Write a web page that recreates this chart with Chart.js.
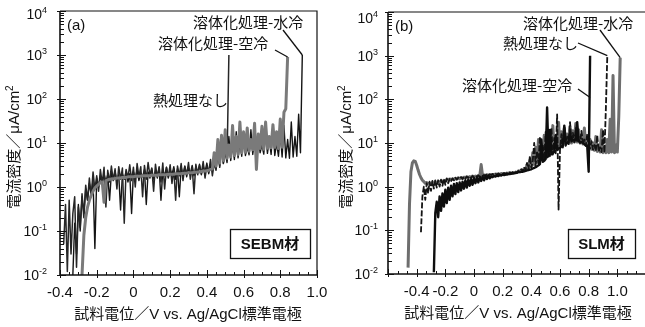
<!DOCTYPE html>
<html>
<head>
<meta charset="utf-8">
<script src="https://cdn.jsdelivr.net/npm/chart.js@4.4.0/dist/chart.umd.min.js"></script>
<style>
  html, body { margin: 0; padding: 0; background: #fff; overflow: hidden; }
  body { width: 645px; height: 327px; position: relative; }
  #wrapA { position: absolute; left: 0; top: 0; width: 335px; height: 327px; }
  #wrapB { position: absolute; left: 322px; top: 0; width: 330px; height: 327px; }
</style>
</head>
<body>
<div id="wrapA"><canvas id="chartA"></canvas></div>
<div id="wrapB"><canvas id="chartB"></canvas></div>
<script>
'use strict';

// potential sweep, V vs. Ag/AgCl
var potentialA = [
  -0.38, -0.37, -0.36, -0.35, -0.34, -0.33, -0.32, -0.31, -0.30, -0.29,
  -0.28, -0.27, -0.26, -0.25, -0.24, -0.23, -0.22, -0.21, -0.20, -0.19,
  -0.18, -0.17, -0.16, -0.15, -0.14, -0.13, -0.12, -0.11, -0.10, -0.09,
  -0.08, -0.07, -0.06, -0.05, -0.04, -0.03, -0.02, -0.01, 0.00, 0.01,
  0.02, 0.03, 0.04, 0.05, 0.06, 0.07, 0.08, 0.09, 0.10, 0.11,
  0.12, 0.13, 0.14, 0.15, 0.16, 0.17, 0.18, 0.19, 0.20, 0.21,
  0.22, 0.23, 0.24, 0.25, 0.26, 0.27, 0.28, 0.29, 0.30, 0.31,
  0.32, 0.33, 0.34, 0.35, 0.36, 0.37, 0.38, 0.39, 0.40, 0.41,
  0.42, 0.43, 0.44, 0.45, 0.46, 0.47, 0.48, 0.49, 0.50, 0.51,
  0.52, 0.53, 0.54, 0.55, 0.56, 0.57, 0.58, 0.59, 0.60, 0.61,
  0.62, 0.63, 0.64, 0.65, 0.66, 0.67, 0.68, 0.69, 0.70, 0.71,
  0.72, 0.73, 0.74, 0.75, 0.76, 0.77, 0.78, 0.79, 0.80, 0.81,
  0.82, 0.83, 0.84, 0.85, 0.86, 0.87, 0.88, 0.89, 0.90, 0.91,
  0.92
];
var potentialB = [
  -0.46, -0.45, -0.44, -0.43, -0.42, -0.41, -0.40, -0.39, -0.38, -0.37,
  -0.36, -0.35, -0.34, -0.33, -0.32, -0.31, -0.30, -0.29, -0.28, -0.27,
  -0.26, -0.25, -0.24, -0.23, -0.22, -0.21, -0.20, -0.19, -0.18, -0.17,
  -0.16, -0.15, -0.14, -0.13, -0.12, -0.11, -0.10, -0.09, -0.08, -0.07,
  -0.06, -0.05, -0.04, -0.03, -0.02, -0.01, 0.00, 0.01, 0.02, 0.03,
  0.04, 0.05, 0.06, 0.07, 0.08, 0.09, 0.10, 0.11, 0.12, 0.13,
  0.14, 0.15, 0.16, 0.17, 0.18, 0.19, 0.20, 0.21, 0.22, 0.23,
  0.24, 0.25, 0.26, 0.27, 0.28, 0.29, 0.30, 0.31, 0.32, 0.33,
  0.34, 0.35, 0.36, 0.37, 0.38, 0.39, 0.40, 0.41, 0.42, 0.43,
  0.44, 0.45, 0.46, 0.47, 0.48, 0.49, 0.50, 0.51, 0.52, 0.53,
  0.54, 0.55, 0.56, 0.57, 0.58, 0.59, 0.60, 0.61, 0.62, 0.63,
  0.64, 0.65, 0.66, 0.67, 0.68, 0.69, 0.70, 0.71, 0.72, 0.73,
  0.74, 0.75, 0.76, 0.77, 0.78, 0.79, 0.80, 0.81, 0.82, 0.83,
  0.84, 0.85, 0.86, 0.87, 0.88, 0.89, 0.90, 0.91, 0.92, 0.93,
  0.94, 0.95, 0.96, 0.97, 0.98, 0.99, 1.00, 1.01, 1.02
];

// (a) SEBM, current density in µA/cm2
var asBuiltA = [ // starts -0.38 V
  0.05, 0.4, 0.012, 0.5, 0.03, 0.25, 0.6, 0.015, 0.35, 0.12,
  0.7, 0.2, 1.1, 0.5, 1.6, 0.6, 2.2, 0.9, 1.8, 0.8,
  2.5, 1.2, 2.8, 0.35, 2.4, 1.3, 3.0, 1.4, 2.6, 0.9,
  2.9, 1.5, 2.7, 0.15, 2.5, 1.6, 3.2, 1.4, 2.8, 1.0,
  3.4, 1.7, 2.9, 0.6, 3.1, 1.5, 3.6, 1.8, 2.7, 0.8,
  3.3, 1.6, 2.9, 1.3, 3.5, 0.9, 2.8, 1.7, 3.2, 1.2,
  2.6, 0.5, 3.0, 1.8, 3.4, 1.4, 2.9, 1.9, 3.6, 1.5,
  2.8, 0.7, 3.3, 1.9, 3.1, 2.0, 3.8, 1.6, 3.0, 2.2,
  4.2, 1.8, 3.5, 2.4, 6.0, 2.8, 9.0, 3.5, 12, 4.0,
  1000
];
var airCoolA = [ // starts -0.28 V
  0.01, 0.08, 0.2, 0.35, 0.5, 0.65, 0.8, 0.95, 1.05, 1.15,
  1.25, 1.3, 0.45, 1.4, 1.45, 1.5, 1.5, 1.55, 1.55, 1.6,
  1.6, 1.6, 1.65, 1.65, 1.65, 1.7, 1.7, 1.7, 1.7, 1.75,
  1.75, 1.75, 1.75, 1.8, 1.8, 1.8, 1.8, 1.8, 1.85, 1.85,
  1.85, 1.85, 1.9, 1.9, 1.9, 1.9, 1.9, 1.95, 1.95, 1.95,
  1.95, 2.0, 2.0, 2.0, 2.0, 2.05, 2.05, 2.05, 2.1, 2.1,
  2.1, 2.15, 2.15, 2.2, 2.2, 2.25, 2.3, 2.3, 2.35, 2.4,
  2.5, 2.6, 6, 3.0, 12, 3.5, 15, 4.0, 20, 4.5,
  9, 4.8, 25, 5.2, 14, 5.5, 30, 6.0, 18, 6.2,
  22, 6.5, 12, 7.0, 28, 2.5, 16, 7.5, 24, 7.2,
  30, 7.6, 14, 7.8, 26, 8.0, 18, 7.5, 35, 8.0,
  50, 60, 900
];
var waterCoolA = [ // starts -0.33 V
  0.01, 0.15, 0.03, 0.4, 0.1, 0.6, 0.25, 0.9, 0.5, 1.2,
  0.7, 1.4, 0.04, 1.6, 1.0, 1.8, 1.2, 2.0, 1.3, 1.9,
  0.5, 2.1, 1.5, 2.2, 1.4, 1.9, 0.3, 2.0, 1.5, 2.3,
  1.3, 2.0, 0.25, 2.2, 1.6, 2.4, 1.4, 2.1, 1.7, 2.5,
  0.4, 2.2, 1.6, 2.6, 1.5, 2.3, 1.7, 2.7, 0.5, 2.4,
  1.8, 2.8, 1.6, 2.5, 1.9, 2.9, 1.5, 2.6, 0.6, 2.8,
  1.9, 3.0, 1.7, 2.7, 2.0, 3.1, 1.8, 2.9, 2.1, 3.3,
  1.9, 3.0, 2.2, 3.5, 2.0, 3.2, 2.4, 4.0, 2.6, 8,
  3.0, 12, 3.4, 6, 3.6, 14, 4.0, 9, 4.2, 18,
  4.6, 10, 5.0, 16, 5.2, 8, 5.4, 20, 5.5, 11,
  5.8, 15, 6.0, 9, 5.6, 18, 5.8, 12, 5.5, 22,
  5.2, 10, 5.0, 16, 4.8, 25, 4.6, 12, 4.5, 30,
  4.8, 14, 5.0, 45, 6.0, 1000
];

// (b) SLM
var waterCoolB = [ // starts -0.46 V
  0.014, 0.4, 2.2, 3.5, 3.9, 3.8, 3.1, 2.4, 1.9, 1.6,
  1.4, 1.3, 1.2, 1.25, 1.15, 1.2, 1.1, 1.25, 1.15, 1.3,
  1.2, 1.3, 1.25, 1.35, 1.3, 1.4, 1.35, 1.45, 1.4, 1.5,
  1.45, 1.5, 1.45, 1.55, 1.5, 1.6, 1.5, 1.6, 1.55, 1.65,
  1.6, 1.7, 1.6, 1.7, 1.65, 1.75, 1.7, 1.75, 1.7, 1.8,
  1.75, 3.2, 1.75, 1.85, 1.8, 1.85, 1.8, 1.9, 1.85, 1.9,
  1.85, 1.95, 1.9, 1.95, 1.9, 2.0, 1.95, 2.0, 1.95, 2.05,
  2.0, 2.1, 2.0, 2.1, 2.05, 2.15, 2.1, 2.3, 2.2, 2.4,
  2.3, 2.6, 2.4, 3.2, 2.6, 4.0, 2.9, 6.0, 3.2, 8.0,
  3.6, 12, 4.0, 9, 4.6, 15, 5.0, 20, 5.6, 12,
  6.2, 25, 6.8, 14, 7.4, 30, 8.0, 18, 8.6, 22,
  9.2, 16, 9.8, 24, 10, 19, 10.5, 28, 10.5, 20,
  10, 15, 9.5, 22, 8.8, 13, 8.0, 12, 7.2, 10,
  6.8, 14, 6.4, 9, 6.2, 20, 6.0, 8, 6.0, 12,
  6.0, 35, 6.2, 350, 6.0, 9, 6.2, 40, 900
];
var airCoolB = [ // starts -0.28 V
  0.011, 0.25, 0.45, 0.2, 0.6, 0.28, 0.7, 0.35, 0.85, 0.42,
  0.95, 0.5, 1.05, 0.6, 1.15, 0.68, 1.2, 0.75, 1.25, 0.82,
  1.3, 0.9, 1.4, 0.95, 1.45, 1.05, 1.5, 1.1, 1.55, 1.2,
  1.6, 1.25, 1.65, 1.35, 1.7, 1.4, 1.75, 1.5, 1.8, 1.55,
  1.7, 1.65, 1.75, 1.7, 1.8, 1.75, 1.85, 1.8, 1.9, 1.85,
  1.9, 1.9, 1.95, 1.95, 2.0, 2.0, 2.05, 2.05, 2.1, 2.15,
  2.15, 2.2, 2.2, 2.25, 2.3, 2.35, 2.4, 2.45, 2.5, 2.6,
  2.7, 2.8, 2.95, 3.1, 3.3, 12, 3.7, 3.9, 4.3, 65,
  4.9, 20, 5.5, 5.9, 6.3, 15, 7.1, 7.5, 7.8, 8.3,
  8.8, 25, 9.6, 10, 10.5, 18, 11.2, 11.5, 11.7, 11.6,
  30, 11.0, 10.6, 10.5, 10.0, 9.4, 8.9, 8.4, 2.2, 1000
];
var asBuiltB = [ // starts -0.37 V
  0.09, 0.6, 1.0, 0.5, 1.2, 0.7, 1.3, 0.8, 1.35, 0.9,
  1.4, 0.95, 1.4, 1.0, 1.45, 1.05, 1.5, 1.1, 1.55, 1.2,
  1.5, 1.35, 1.55, 1.4, 1.6, 1.45, 1.6, 1.5, 1.65, 1.5,
  1.7, 1.55, 1.7, 1.6, 1.75, 1.6, 1.75, 1.65, 1.8, 1.7,
  1.8, 1.7, 1.85, 1.75, 1.85, 1.8, 1.9, 1.8, 1.9, 1.85,
  1.95, 1.85, 1.95, 1.9, 2.0, 1.9, 2.0, 1.95, 2.05, 1.95,
  2.05, 2.0, 2.1, 2.0, 2.15, 2.05, 2.2, 2.1, 2.3, 2.15,
  2.5, 2.25, 2.8, 2.4, 3.5, 2.5, 5.0, 2.7, 4.0, 10,
  3.1, 6.5, 3.4, 14, 3.8, 9, 4.2, 18, 4.6, 11,
  5.0, 22, 5.4, 13, 5.8, 45, 0.3, 7.0, 16, 7.8,
  24, 8.6, 14, 9.4, 30, 10, 17, 10.4, 22, 10.2,
  14, 9.8, 19, 9.2, 12, 8.6, 16, 8.0, 7.6, 11,
  7.0, 9, 6.6, 15, 6.4, 8, 6.2, 20, 6.0, 60,
  1000
];

var xTickValues = [-0.4, -0.2, 0, 0.2, 0.4, 0.6, 0.8, 1.0];
var xTickLabels = ['-0.4', '-0.2', '0', '0.2', '0.4', '0.6', '0.8', '1.0'];
var yExponents = [-2, -1, 0, 1, 2, 3, 4];

var LATIN = '"Liberation Sans", Arial, sans-serif';
var MIXED = '"Liberation Sans", "Noto Sans CJK JP", sans-serif';
var CJK = '"Noto Sans CJK JP", sans-serif';

function toPoints(grid, start, values) {
  var offset = grid.findIndex(function (p) { return Math.abs(p - start) < 1e-9; });
  return values.map(function (v, i) { return { x: grid[offset + i], y: v }; });
}

function series(label, points, color, width, order, dash) {
  return {
    label: label,
    data: points,
    borderColor: color,
    borderWidth: width,
    borderDash: dash || [],
    borderJoinStyle: 'round',
    pointRadius: 0,
    tension: 0,
    order: order
  };
}

// axes, ticks, titles and callouts drawn with the chart's own scales
var panelAxes = {
  id: 'panelAxes',
  afterDatasetsDraw: function (chart, args, o) {
    var ctx = chart.ctx;
    var xs = chart.scales.x, ys = chart.scales.y, a = chart.chartArea;
    var L = a.left, R = a.right, T = a.top, B = a.bottom;
    ctx.save();
    ctx.strokeStyle = '#111';
    ctx.fillStyle = '#111';

    ctx.lineWidth = 1.6;
    ctx.beginPath();
    ctx.moveTo(L, T); ctx.lineTo(L, B); ctx.lineTo(R, B);
    ctx.stroke();
    ctx.lineWidth = 1.2;
    ctx.beginPath();
    ctx.moveTo(L, T); ctx.lineTo(R, T);
    if (o.rightEdge) ctx.lineTo(R, B);
    ctx.stroke();

    // log ticks on the left axis
    ctx.lineWidth = 1;
    ctx.beginPath();
    yExponents.forEach(function (e) {
      var py = Math.round(ys.getPixelForValue(Math.pow(10, e))) + 0.5;
      ctx.moveTo(L - 3, py); ctx.lineTo(L + 6, py);
      if (e < 4) {
        for (var m = 2; m < 10; m++) {
          var pm = Math.round(ys.getPixelForValue(m * Math.pow(10, e))) + 0.5;
          ctx.moveTo(L, pm); ctx.lineTo(L + 4, pm);
        }
      }
    });
    // potential ticks
    var n = Math.round((xs.max - xs.min) / o.xMinor);
    for (var k = 0; k <= n; k++) {
      var v = xs.min + k * o.xMinor;
      var px = Math.round(xs.getPixelForValue(v)) + 0.5;
      var major = Math.abs(v / 0.2 - Math.round(v / 0.2)) < 1e-6;
      ctx.moveTo(px, major ? B - 5 : B - 3);
      ctx.lineTo(px, major ? B + 3 : B);
    }
    ctx.stroke();

    // y tick labels 10^n
    ctx.textAlign = 'left';
    ctx.textBaseline = 'alphabetic';
    yExponents.forEach(function (e) {
      var py = ys.getPixelForValue(Math.pow(10, e)) + (e === 4 ? o.topNudge : 0);
      var sup = String(e);
      ctx.font = '9px ' + LATIN;
      var wSup = ctx.measureText(sup).width;
      ctx.font = '14px ' + LATIN;
      var wBase = ctx.measureText('10').width;
      var right = L - o.yLabelGap;
      ctx.fillText('10', right - wSup - wBase, py + 5);
      ctx.font = '9px ' + LATIN;
      ctx.fillText(sup, right - wSup, py - 1);
    });

    // x tick labels
    ctx.font = o.xFont + 'px ' + LATIN;
    ctx.textAlign = 'center';
    ctx.textBaseline = 'middle';
    xTickValues.forEach(function (v, i) {
      ctx.fillText(xTickLabels[i], xs.getPixelForValue(v), B + 18);
    });

    // axis titles
    ctx.font = '15px ' + MIXED;
    ctx.fillText('試料電位／V vs. Ag/AgCl標準電極', o.xTitleX, B + 40);

    ctx.save();
    ctx.translate(o.yTitleX, (T + B) / 2 + 4);
    ctx.rotate(-Math.PI / 2);
    ctx.font = '15px ' + MIXED;
    var main = '電流密度／μA/cm';
    var wMain = ctx.measureText(main).width;
    ctx.font = '10px ' + LATIN;
    var wTwo = ctx.measureText('2').width;
    var sx = -(wMain + wTwo) / 2;
    ctx.font = '15px ' + MIXED;
    ctx.textAlign = 'left';
    ctx.fillText(main, sx, 0);
    ctx.font = '10px ' + LATIN;
    ctx.fillText('2', sx + wMain, -5);
    ctx.restore();

    // panel letter
    ctx.font = '15px ' + LATIN;
    ctx.textAlign = 'left';
    ctx.fillText(o.letter, L + 7, T + 15);

    // callouts
    ctx.font = '15px ' + CJK;
    ctx.lineWidth = 1.3;
    o.callouts.forEach(function (c) {
      ctx.textAlign = 'left';
      ctx.textBaseline = 'middle';
      ctx.fillText(c.text, c.x, c.y);
      if (c.from) {
        ctx.beginPath();
        ctx.moveTo(c.from[0], c.from[1]);
        ctx.lineTo(xs.getPixelForValue(c.toX), ys.getPixelForValue(c.toY));
        ctx.stroke();
      }
    });

    // material box
    var bx = o.box;
    ctx.lineWidth = 1.3;
    ctx.strokeRect(bx[0] + 0.5, bx[1] + 0.5, bx[2], bx[3]);
    ctx.font = 'bold 15px ' + MIXED;
    ctx.textAlign = 'center';
    ctx.fillText(o.boxText, bx[0] + bx[2] / 2, bx[1] + bx[3] / 2 + 1);

    ctx.restore();
  }
};

function makePanel(id, datasets, xMin, xMax, padding, axesOpts) {
  var ctx = document.getElementById(id).getContext('2d');
  return new Chart(ctx, {
    type: 'line',
    data: { datasets: datasets },
    options: {
      responsive: true,
      maintainAspectRatio: false,
      animation: false,
      devicePixelRatio: 1,
      layout: { padding: padding },
      scales: {
        x: { type: 'linear', min: xMin, max: xMax, display: false },
        y: { type: 'logarithmic', min: 0.01, max: 10000, display: false }
      },
      plugins: {
        legend: { display: false },
        tooltip: { enabled: false },
        panelAxes: axesOpts
      }
    },
    plugins: [panelAxes]
  });
}

makePanel('chartA', [
  series('溶体化処理-空冷', toPoints(potentialA, -0.28, airCoolA), '#7a7a7a', 3, 0),
  series('熱処理なし', toPoints(potentialA, -0.38, asBuiltA), '#262626', 1.5, 1),
  series('溶体化処理-水冷', toPoints(potentialA, -0.33, waterCoolA), '#141414', 1.4, 2)
], -0.4, 1.0, { left: 60, top: 11, right: 18, bottom: 52 }, {
  letter: '(a)',
  rightEdge: true,
  xMinor: 0.05,
  xFont: 15,
  xTitleX: 188,
  yLabelGap: 13,
  topNudge: 3,
  yTitleX: 15,
  box: [230, 229, 80, 29],
  boxText: 'SEBM材',
  callouts: [
    { text: '溶体化処理-水冷', x: 193, y: 22, from: [283, 30], toX: 0.92, toY: 1000 },
    { text: '溶体化処理-空冷', x: 158, y: 43, from: [275, 50], toX: 0.84, toY: 900 },
    { text: '熱処理なし', x: 153, y: 100 }
  ]
});

makePanel('chartB', [
  series('溶体化処理-空冷', toPoints(potentialB, -0.28, airCoolB), '#0e0e0e', 2.4, 0),
  series('熱処理なし', toPoints(potentialB, -0.37, asBuiltB), '#141414', 1.8, 1, [6, 2]),
  series('溶体化処理-水冷', toPoints(potentialB, -0.46, waterCoolB), '#6e6e6e', 3, 2)
], -0.6, 1.2, { left: 66, top: 12, right: 6, bottom: 53 }, {
  letter: '(b)',
  rightEdge: false,
  xMinor: 0.2 / 3,
  xFont: 15,
  xTitleX: 196,
  yLabelGap: 10,
  topNudge: 6,
  yTitleX: 25,
  box: [246, 229, 67, 29],
  boxText: 'SLM材',
  callouts: [
    { text: '溶体化処理-水冷', x: 201, y: 23, from: [278, 30], toX: 1.02, toY: 900 },
    { text: '熱処理なし', x: 181, y: 43, from: [256, 43], toX: 0.93, toY: 1000 },
    { text: '溶体化処理-空冷', x: 140, y: 85, from: [256, 89], toX: 0.81, toY: 110 }
  ]
});
</script>
</body>
</html>
